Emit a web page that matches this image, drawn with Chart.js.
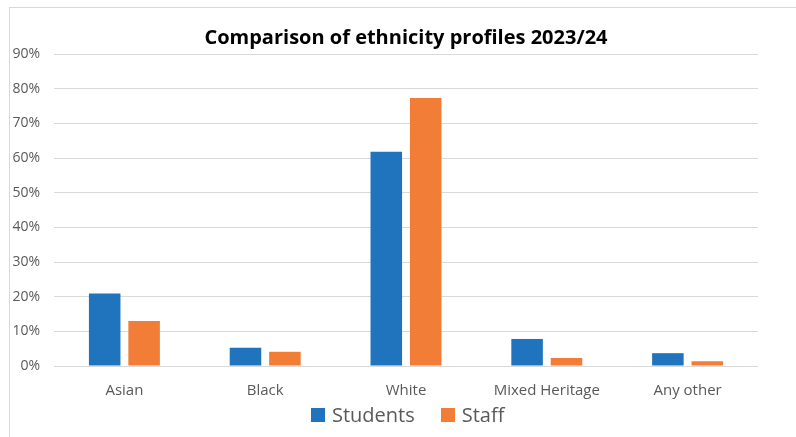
<!DOCTYPE html>
<html>
<head>
<meta charset="utf-8">
<script src="https://cdn.jsdelivr.net/npm/chart.js@4"></script>
<style>
  body { margin: 0; background: #fff; font-family: "Open Sans", sans-serif; }
  #frame { position: absolute; left: 9px; top: 7px; width: 800px; height: 440px; border: 1px solid #d9d9d9; box-sizing: border-box; }
  #wrap { position: absolute; left: 0; top: 0; width: 796px; height: 437px; }
  #legend { position: absolute; left: 311px; top: 401px; display: flex; align-items: center; font-size: 20px; color: #595959; line-height: 28px; }
  #legend .item { display: flex; align-items: center; margin-right: 26px; }
  #legend .box { width: 14px; height: 14px; margin-right: 7px; }
</style>
</head>
<body>
<div id="frame"></div>
<div id="wrap"><canvas id="ethnicityChart" width="796" height="437"></canvas></div>
<div id="legend"></div>
<script>
const categories = ["Asian", "Black", "White", "Mixed Heritage", "Any other"];
const students = [20.9, 5.3, 61.8, 7.8, 3.7];
const staff = [13.0, 4.1, 77.3, 2.3, 1.4];
const yTicks = [0, 10, 20, 30, 40, 50, 60, 70, 80, 90];

const ctx = document.getElementById("ethnicityChart").getContext("2d");

const chart = new Chart(ctx, {
  type: "bar",
  data: {
    labels: categories,
    datasets: [
      { label: "Students", data: students, backgroundColor: "#1f74bd", categoryPercentage: 0.56, barPercentage: 0.8 },
      { label: "Staff", data: staff, backgroundColor: "#f27d37", categoryPercentage: 0.56, barPercentage: 0.8 }
    ]
  },
  options: {
    responsive: false,
    animation: false,
    layout: { padding: { left: 8, right: 38, top: 0, bottom: 29 } },
    scales: {
      x: {
        grid: { display: false },
        border: { display: false },
        ticks: { color: "#595959", font: { family: "Open Sans", size: 15 }, padding: 8 }
      },
      y: {
        min: 0,
        max: 90,
        afterBuildTicks: axis => { axis.ticks = yTicks.map(v => ({ value: v })); },
        afterFit: axis => { axis.width = 46; },
        grid: { color: "#d9d9d9", lineWidth: 1, drawTicks: false },
        border: { display: false },
        ticks: {
          color: "#595959",
          font: { family: "Open Sans", size: 14 },
          padding: 14,
          callback: v => v + "%"
        }
      }
    },
    plugins: {
      legend: { display: false },
      title: {
        display: true,
        fullSize: false,
        text: "Comparison of ethnicity profiles 2023/24",
        color: "#000",
        font: { family: "Open Sans", size: 20, weight: "bold" },
        padding: { top: 26, bottom: 4 }
      },
      tooltip: { enabled: false }
    }
  }
});

// legend built from the chart's datasets
const legendEl = document.getElementById("legend");
chart.data.datasets.forEach(ds => {
  const item = document.createElement("div");
  item.className = "item";
  item.innerHTML = `<span class="box" style="background:${ds.backgroundColor}"></span><span>${ds.label}</span>`;
  legendEl.appendChild(item);
});
</script>
</body>
</html>
